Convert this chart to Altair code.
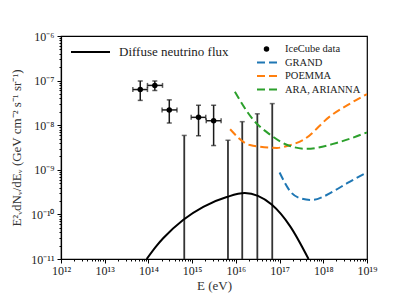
import altair as alt
import pandas as pd

# ---------------- data ----------------
# Diffuse neutrino flux model (black solid curve)
diffuse_E = [9.1e13, 1.55e14, 2.2e14, 6.3e14, 1.8e15, 6.2e15, 1.6e16, 3.2e16, 6.6e16, 1.75e17, 4.6e17]
diffuse_F = [1.0e-11, 2.0e-11, 2.95e-11, 7.6e-11, 1.48e-10, 2.45e-10, 3.0e-10, 2.6e-10, 1.66e-10, 5.4e-11, 1.0e-11]

# GRAND sensitivity (blue dashed)
grand_E = [1.0e17, 1.9e17, 3.0e17, 5.5e17, 1.0e18, 1.9e18, 3.5e18, 1.0e19]
grand_F = [8.7e-10, 3.0e-10, 2.3e-10, 2.1e-10, 2.5e-10, 3.5e-10, 5.0e-10, 8.7e-10]

# POEMMA sensitivity (orange dashed)
poemma_E = [7.4e15, 2.1e16, 8.7e16, 1.6e17, 3.5e17, 1.45e18, 4.2e18, 1.0e19]
poemma_F = [8.1e-9, 3.6e-9, 3.1e-9, 3.5e-9, 4.7e-9, 1.6e-8, 3.1e-8, 5.0e-8]

# ARA, ARIANNA sensitivity (green dashed)
ara_E = [9.5e15, 2.5e16, 6.0e16, 1.5e17, 4.2e17, 2.0e18, 1.0e19]
ara_F = [5.6e-8, 1.32e-8, 6.2e-9, 3.6e-9, 2.95e-9, 4.0e-9, 6.9e-9]

# IceCube data points with errors
ice_E = [6.5e13, 1.4e14, 3.0e14, 1.4e15, 3.1e15]
ice_Elo = [4.4e13, 9.5e13, 2.05e14, 9.5e14, 2.1e15]
ice_Ehi = [9.5e13, 2.1e14, 4.5e14, 2.05e15, 4.6e15]
ice_F = [6.3e-8, 7.8e-8, 2.2e-8, 1.5e-8, 1.26e-8]
ice_Flo = [3.6e-8, 6.0e-8, 1.12e-8, 5.8e-9, 3.5e-9]
ice_Fhi = [9.8e-8, 9.8e-8, 3.7e-8, 2.8e-8, 2.8e-8]

# IceCube bins with error bars reaching down to zero
lim_E = [6.6e14, 6.6e15, 1.4e16, 3.1e16, 6.8e16]
lim_Fhi = [5.9e-9, 4.6e-9, 1.2e-8, 1.8e-8, 3.05e-8]
lim_Flo = [1e-12, 1e-12, 1e-12, 1e-12, 1e-12]

x_ticks_major = [12, 13, 14, 15, 16, 17, 18, 19]
y_ticks_major = [-11, -10, -9, -8, -7, -6]

# ---------------- helpers ----------------
SUP = str.maketrans("-0123456789", "⁻⁰¹²³⁴⁵⁶⁷⁸⁹")
FONT = "Liberation Serif"


def label_expr(exps):
    parts = [f"abs(log(datum.value)/LN10 - ({e})) < 0.001 ? '10{str(e).translate(SUP)}'" for e in exps]
    return " : ".join(parts) + " : ''"


def minor_values(exps):
    vals = []
    for e in exps[:-1]:
        for k in range(1, 10):
            vals.append(float(f"{k}e{e}"))
    vals.append(float(f"1e{exps[-1]}"))
    return vals


major_test = "abs(log(datum.value)/LN10 - round(log(datum.value)/LN10)) < 0.001"

x_scale = alt.Scale(type="log", domain=[1e12, 1e19], nice=False)
y_scale = alt.Scale(type="log", domain=[1e-11, 1e-6], nice=False)

x_axis = alt.Axis(
    values=minor_values(x_ticks_major),
    labelExpr=label_expr(x_ticks_major),
    tickSize={"condition": {"test": major_test, "value": 4}, "value": 2},
    title="E (eV)",
    grid=False,
    labelFlush=False,
    labelOverlap=False,
    labelPadding=2,
    titlePadding=3,
)
y_axis = alt.Axis(
    values=minor_values(y_ticks_major),
    labelExpr=label_expr(y_ticks_major),
    tickSize={"condition": {"test": major_test, "value": 4}, "value": 2},
    title="E²ᵥdNᵥ/dEᵥ (GeV cm⁻² s⁻¹ sr⁻¹)",
    grid=False,
    labelFlush=False,
    labelOverlap=False,
    labelPadding=3,
    titlePadding=7,
)


def X(field):
    return alt.X(field, type="quantitative", scale=x_scale, axis=x_axis)


def Y(field):
    return alt.Y(field, type="quantitative", scale=y_scale, axis=y_axis)


DASH = [8, 4]
BLUE, ORANGE, GREEN = "#1f77b4", "#ff7f0e", "#2ca02c"

diffuse = alt.Chart(pd.DataFrame({"E": diffuse_E, "F": diffuse_F})).mark_line(
    color="black", strokeWidth=2, clip=True, interpolate="monotone"
).encode(x=X("E"), y=Y("F"), order="E:Q")


def sens(E, F, color):
    return alt.Chart(pd.DataFrame({"E": E, "F": F})).mark_line(
        color=color, strokeWidth=2, strokeDash=DASH, clip=True, interpolate="monotone"
    ).encode(x=X("E"), y=Y("F"), order="E:Q")


grand = sens(grand_E, grand_F, BLUE)
poemma = sens(poemma_E, poemma_F, ORANGE)
ara = sens(ara_E, ara_F, GREEN)

ice_df = pd.DataFrame({"E": ice_E, "Elo": ice_Elo, "Ehi": ice_Ehi,
                       "F": ice_F, "Flo": ice_Flo, "Fhi": ice_Fhi})
ERR = "#1a1a1a"
ice_v = alt.Chart(ice_df).mark_rule(color=ERR, strokeWidth=1.5).encode(
    x=X("E"), y=Y("Flo"), y2="Fhi")
ice_h = alt.Chart(ice_df).mark_rule(color=ERR, strokeWidth=1.5).encode(
    x=X("Elo"), x2="Ehi", y=Y("F"))
cap_top = alt.Chart(ice_df).mark_tick(color=ERR, orient="horizontal", size=5, thickness=1.5).encode(
    x=X("E"), y=Y("Fhi"))
cap_bot = alt.Chart(ice_df).mark_tick(color=ERR, orient="horizontal", size=5, thickness=1.5).encode(
    x=X("E"), y=Y("Flo"))
cap_l = alt.Chart(ice_df).mark_tick(color=ERR, orient="vertical", size=5, thickness=1.5).encode(
    x=X("Elo"), y=Y("F"))
cap_r = alt.Chart(ice_df).mark_tick(color=ERR, orient="vertical", size=5, thickness=1.5).encode(
    x=X("Ehi"), y=Y("F"))
ice_pts = alt.Chart(ice_df).mark_point(filled=True, color="black", size=30, opacity=1).encode(
    x=X("E"), y=Y("F"))

lim_df = pd.DataFrame({"E": lim_E, "Flo": lim_Flo, "Fhi": lim_Fhi})
lim_bars = alt.Chart(lim_df).mark_rule(color="#333333", strokeWidth=1.8, clip=True).encode(
    x=X("E"), y=Y("Flo"), y2="Fhi")
lim_caps = alt.Chart(lim_df).mark_tick(color="#333333", orient="horizontal", size=5, thickness=1.5).encode(
    x=X("E"), y=Y("Fhi"))

# ---------------- legends (drawn by hand) ----------------
one = pd.DataFrame({"k": [0]})
legend_layers = []
# left legend
legend_layers.append(alt.Chart(one).mark_rule(color="black", strokeWidth=2).encode(
    x=alt.value(10), x2=alt.value(49), y=alt.value(16)))
legend_layers.append(alt.Chart(pd.DataFrame({"t": ["Diffuse neutrino flux"]})).mark_text(
    align="left", baseline="middle", font=FONT, fontSize=13, color="#222").encode(
    x=alt.value(58), y=alt.value(16), text="t:N"))
# right legend
legend_layers.append(alt.Chart(one).mark_point(filled=True, color="black", size=30, opacity=1).encode(
    x=alt.value(205.5), y=alt.value(13)))
right_labels = ["IceCube data", "GRAND", "POEMMA", "ARA, ARIANNA"]
right_colors = [None, BLUE, ORANGE, GREEN]
right_y = [13, 26.5, 40, 53.5]
for lab, col, yy in zip(right_labels, right_colors, right_y):
    if col is not None:
        legend_layers.append(alt.Chart(one).mark_rule(color=col, strokeWidth=2, strokeDash=DASH).encode(
            x=alt.value(196), x2=alt.value(216), y=alt.value(yy)))
    legend_layers.append(alt.Chart(pd.DataFrame({"t": [lab]})).mark_text(
        align="left", baseline="middle", font=FONT, fontSize=10.5, color="#222").encode(
        x=alt.value(224), y=alt.value(yy), text="t:N"))

chart = alt.layer(
    lim_bars, lim_caps, diffuse, grand, poemma, ara,
    ice_h, ice_v, cap_top, cap_bot, cap_l, cap_r, ice_pts,
    *legend_layers,
).properties(
    width=306, height=223,
    autosize=alt.AutoSizeParams(type="none"),
    padding={"left": 53, "top": 28, "right": 30, "bottom": 36},
).configure_view(
    stroke="black", strokeWidth=1.2
).configure_axis(
    domainColor="black", domainWidth=1.2, tickColor="black", tickWidth=1,
    labelFont=FONT, labelFontSize=12, labelColor="#222",
    titleFont=FONT, titleFontSize=13, titleColor="#333", titleFontWeight="normal",
)

chart.save("out.html", embed_options={"renderer": "svg", "actions": False})
